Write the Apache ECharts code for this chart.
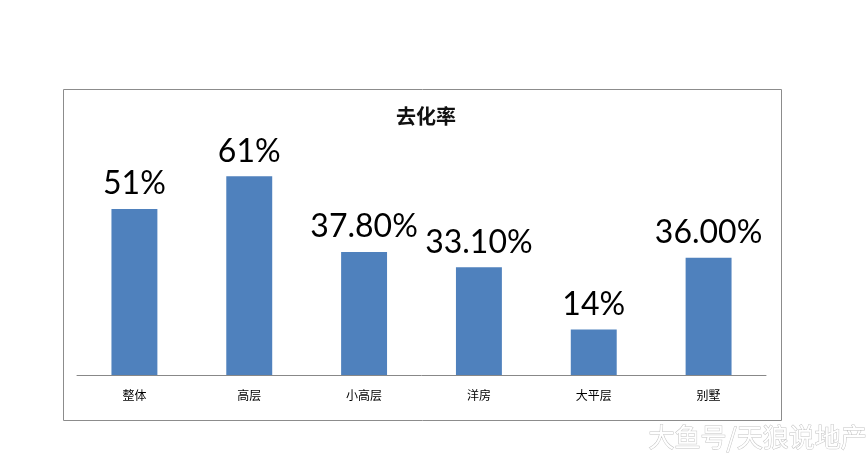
<!DOCTYPE html>
<html><head><meta charset="utf-8">
<script src="https://cdn.jsdelivr.net/npm/echarts@6/dist/echarts.min.js"></script>
<style>html,body{margin:0;padding:0;background:#fff}#c{width:868px;height:467px}</style>
</head><body><div id="c"></div>
<script>
const categories = ['整体','高层','小高层','洋房','大平层','别墅'];
const values = [51, 61, 37.8, 33.1, 14, 36];
const labelTexts = ['51%','61%','37.80%','33.10%','14%','36.00%'];

const chart = echarts.init(document.getElementById('c'));
chart.setOption({
  animation: false,
  backgroundColor: '#fff',
  title: {
    text: '去化率', left: 421, top: 101, textAlign: 'center',
    textStyle: {fontSize: 20, fontWeight: 'bold', color: '#111', fontFamily: 'Noto Sans CJK SC'}
  },
  grid: {left: 77, right: 102, top: 147, bottom: 92},
  xAxis: {
    type: 'category', data: categories,
    axisLine: {lineStyle: {color: '#888', width: 1}},
    axisTick: {show: false},
    axisLabel: {color: '#000', fontSize: 12, margin: 14, fontFamily: 'Noto Sans CJK SC'}
  },
  yAxis: {type: 'value', min: 0, max: 70, show: false, splitLine: {show: false}},
  series: [{
    type: 'bar', data: values, barWidth: '40%',
    itemStyle: {color: '#4f81bd'},
    label: {
      show: true, position: 'top', distance: 9,
      formatter: p => labelTexts[p.dataIndex],
      fontSize: 32, color: '#000', fontFamily: 'Lato'
    }
  }],
  graphic: [
    {type: 'rect', shape: {x: 63.5, y: 89.5, width: 718, height: 331},
     style: {fill: 'none', stroke: '#8c8c8c', lineWidth: 1}},
    {type: 'text', left: 648, top: 424,
     style: {text: '大鱼号/天狼说地产', fontSize: 26, fill: '#fff', stroke: '#c4c4c4', lineWidth: 1,
             fontFamily: 'Noto Sans CJK SC'}}
  ]
});
</script></body></html>
